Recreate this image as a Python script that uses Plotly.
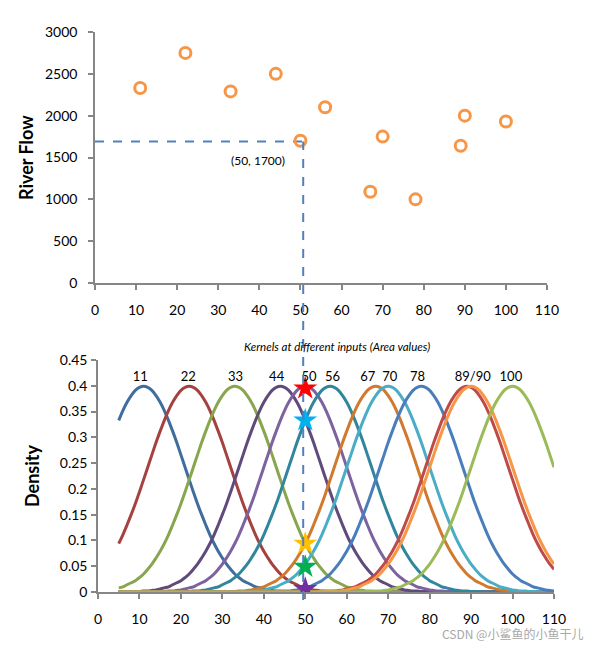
import plotly.graph_objects as go

# ---------------- data ----------------
area = [11, 22, 33, 44, 50, 56, 67, 70, 78, 89, 90, 100]
river_flow = [2330, 2750, 2290, 2500, 1700, 2100, 1090, 1750, 1000, 1640, 2000, 1930]

query_x = 50
query_flow = 1690

# kernel density profile, by |distance| from a kernel centre (step 1)
kernel_profile = [0.399, 0.397, 0.391, 0.381, 0.368, 0.352, 0.333, 0.312, 0.290, 0.266,
                  0.242, 0.218, 0.194, 0.171, 0.150, 0.130, 0.111, 0.094, 0.079, 0.066,
                  0.054, 0.044, 0.035, 0.028, 0.022, 0.018, 0.014, 0.010, 0.008, 0.006,
                  0.004, 0.003, 0.002, 0.002, 0.001, 0.001, 0.0005, 0.0003, 0.0002, 0.0001]
kernel_x_start = 5
kernel_x_end = 110

kernel_colors = ["#3F6D9E", "#A5423F", "#89A54E", "#604A7B", "#7D62A0", "#31859C",
                 "#D0792F", "#4BACC6", "#4A7EBB", "#BE4B48", "#F79646", "#9BBB59"]

kernel_labels = ["11", "22", "33", "44", "50", "56", "67", "70", "78", "89/90", "100"]
kernel_label_x = [10.2, 21.8, 33.2, 43.1, 50.9, 56.6, 65.1, 70.4, 77.1, 90.4, 99.6]
kernel_label_y = 0.4156

star_values = [0.395, 0.333, 0.094, 0.049, 0.006]
star_colors = ["#FF0000", "#00B0F0", "#FFC000", "#00B050", "#7030A0"]

# ---------------- layout geometry ----------------
W, H = 599, 648
top_xdom = [95 / W, 547 / W]
top_ydom = [1 - 283 / H, 1 - 32 / H]
bot_xdom = [98 / W, 554 / W]
bot_ydom = [1 - 592 / H, 1 - 360 / H]

FONT = "Lato, Calibri, 'Open Sans', sans-serif"
AXIS_GRAY = "#868686"
LINE_BLUE = "#4F81BD"

fig = go.Figure()

# top scatter
fig.add_trace(go.Scatter(
    x=[0, query_x + 0.5], y=[query_flow, query_flow], mode="lines",
    line=dict(color=LINE_BLUE, width=2, dash="dash"), xaxis="x", yaxis="y",
    showlegend=False, hoverinfo="skip"))
fig.add_trace(go.Scatter(
    x=area, y=river_flow, mode="markers",
    marker=dict(symbol="circle-open", size=11, color="#F79646", line=dict(width=3, color="#F79646")),
    xaxis="x", yaxis="y", showlegend=False))

# kernels
xs = list(range(kernel_x_start, kernel_x_end + 1))
for c, col in zip(area, kernel_colors):
    ys = [kernel_profile[abs(x - c)] if abs(x - c) < len(kernel_profile) else 0.0 for x in xs]
    fig.add_trace(go.Scatter(x=xs, y=ys, mode="lines", line=dict(color=col, width=3, shape="spline"),
                             xaxis="x2", yaxis="y2", showlegend=False))

# stars
fig.add_trace(go.Scatter(
    x=[query_x] * len(star_values), y=star_values, mode="markers",
    marker=dict(symbol="star", size=18, color=star_colors, line=dict(width=0)),
    xaxis="x2", yaxis="y2", showlegend=False))

# kernel labels
fig.add_trace(go.Scatter(
    x=kernel_label_x, y=[kernel_label_y] * len(kernel_labels), mode="text",
    text=kernel_labels, textposition="middle center",
    textfont=dict(family=FONT, size=13, color="#000000"),
    xaxis="x2", yaxis="y2", showlegend=False, hoverinfo="skip", cliponaxis=False))

# vertical dashed line across both panels
y_top = top_ydom[0] + (query_flow / 3000) * (top_ydom[1] - top_ydom[0])
fig.add_shape(type="line", xref="x2", yref="paper", x0=49.5, x1=49.5,
              y0=1 - 600 / H, y1=y_top, line=dict(color=LINE_BLUE, width=2, dash="dash"))

axis_common = dict(showline=True, linecolor=AXIS_GRAY, linewidth=1.5, ticks="outside",
                   tickcolor=AXIS_GRAY, ticklen=5, tickwidth=1.5, showgrid=False, zeroline=False,
                   automargin=False, tickfont=dict(family=FONT, size=14, color="#000000"))

fig.update_layout(
    width=W, height=H, margin=dict(l=0, r=0, t=0, b=0, autoexpand=False),
    paper_bgcolor="white", plot_bgcolor="white",
    xaxis=dict(domain=top_xdom, range=[0, 110], dtick=10, tick0=0, anchor="y",
               ticklabelstandoff=8, **axis_common),
    yaxis=dict(domain=top_ydom, range=[0, 3000], dtick=500, tick0=0, anchor="x",
               tickformat="d", ticklabelstandoff=8, **axis_common),
    xaxis2=dict(domain=bot_xdom, range=[0, 110], dtick=10, tick0=0, anchor="y2",
                ticklabelstandoff=8, **axis_common),
    yaxis2=dict(domain=bot_ydom, range=[0, 0.45], dtick=0.05, tick0=0, anchor="x2",
                ticklabelstandoff=1, **axis_common),
    annotations=[
        dict(text="<b>River Flow</b>", textangle=-90, x=26 / W, y=1 - 158 / H,
             xref="paper", yref="paper", xanchor="center", yanchor="middle", showarrow=False,
             font=dict(family=FONT, size=18, color="#000000")),
        dict(text="<b>Density</b>", textangle=-90, x=32 / W, y=1 - 476 / H,
             xref="paper", yref="paper", xanchor="center", yanchor="middle", showarrow=False,
             font=dict(family=FONT, size=18, color="#000000")),
        dict(text="(50, 1700)", x=39.7, y=1470, xref="x", yref="y", showarrow=False,
             xanchor="center", yanchor="middle",
             font=dict(family=FONT, size=12, color="#000000")),
        dict(text="<i>Kernels at different inputs (Area values)</i>", x=337 / W, y=1 - 346 / H,
             xref="paper", yref="paper", xanchor="center", yanchor="middle", showarrow=False,
             font=dict(family=FONT, size=11.5, color="#000000")),
        dict(text="CSDN @小鲨鱼的小鱼干儿", x=585 / W, y=1 - 633 / H, xref="paper", yref="paper",
             xanchor="right", yanchor="middle", showarrow=False,
             font=dict(family="'Noto Sans CJK SC', sans-serif", size=12, color="#A8A8A8")),
    ],
)

fig.write_html("out.html", config={"responsive": False, "displayModeBar": False},
               post_script="document.body.style.margin='0';document.body.style.overflow='hidden';")
